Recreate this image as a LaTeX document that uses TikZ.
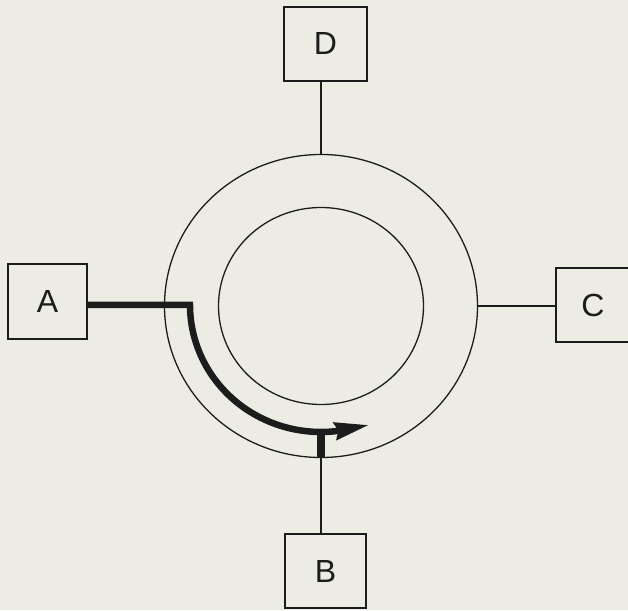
\documentclass[tikz,border=0pt]{standalone}
\usepackage{fontspec}
\setmainfont{Liberation Sans}
\usetikzlibrary{shapes.geometric,arrows.meta}
\definecolor{paper}{RGB}{237,236,228}
\definecolor{ink}{RGB}{28,28,28}
\begin{document}
\begin{tikzpicture}[x=1pt,y=1pt,
  unitbox/.style={draw=ink,line width=1.5pt,fill=paper,inner sep=0pt,outer sep=0pt,
    font=\fontsize{32}{32}\selectfont,text=ink},
  ring/.style={draw=ink,line width=1.3pt,shape=ellipse,inner sep=0pt,outer sep=0pt},
  link/.style={draw=ink,line width=1.3pt},
  flow/.style={draw=ink,line width=6.5pt,line join=miter,
    -{Stealth[length=34pt,width=17pt,inset=3pt]}},
  tap/.style={draw=ink,line width=8pt}]
  % page and background
  \fill[paper] (0,0) rectangle (628,610);
  \useasboundingbox (0,0) rectangle (628,610);
  \begin{scope}
  \clip (0,0) rectangle (628,610);
  % ring body
  \node[ring,minimum width=313pt,minimum height=303pt] (outer) at (321,304) {};
  \node[ring,minimum width=205pt,minimum height=197pt] (inner) at (321,304) {};
  % stations
  \node[unitbox,minimum width=79pt,minimum height=75pt] (A) at (47.5,308.5) {A};
  \node[unitbox,minimum width=81pt,minimum height=74pt] (B) at (325.5,39) {B};
  \node[unitbox,minimum width=74pt,minimum height=74pt] (C) at (593,305) {C};
  \node[unitbox,minimum width=83pt,minimum height=74pt] (D) at (325.5,566) {D};
  % stubs joining stations to the ring
  \draw[link] (outer.north) -- (outer.north |- D.south);
  \draw[link] (outer.south) -- (outer.south |- B.north);
  \draw[link] (outer.east) -- (outer.east -| C.west);
  % path of the message from A round to B
  \coordinate (turn) at (190,305);
  \coordinate (drop) at (321,178);
  \coordinate (tip) at (369,185);
  \draw[flow] (turn -| A.east) -- (turn)
    arc[start angle=180,end angle=276,x radius=131,y radius=127] -- (tip);
  \draw[tap] (drop) -- (outer.south);
  \end{scope}
\end{tikzpicture}
\end{document}
